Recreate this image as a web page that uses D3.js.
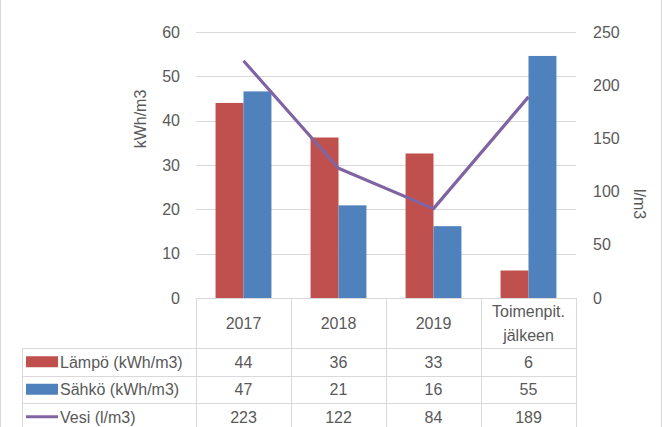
<!DOCTYPE html>
<html>
<head>
<meta charset="utf-8">
<script src="https://cdn.jsdelivr.net/npm/d3@7"></script>
<style>
  body { margin: 0; background: #fff; }
  svg { display: block; font-family: "Liberation Sans", Arial, sans-serif; }
</style>
</head>
<body>
<div id="container"></div>
<script>
var categories = ["2017", "2018", "2019", "Toimenpit.\njälkeen"];
var lampo = [44.0, 36.2, 32.6, 6.2];   // kWh/m3
var sahko = [46.6, 20.9, 16.2, 54.6];  // kWh/m3
var vesi = [223, 122, 84, 189];        // l/m3
var leftTicks = [0, 10, 20, 30, 40, 50, 60];
var rightTicks = [0, 50, 100, 150, 200, 250];

var seriesNames = ["Lämpö (kWh/m3)", "Sähkö (kWh/m3)", "Vesi (l/m3)"];
var colors = ["#c0504d", "#4f81bd", "#8064a2"];

function init() {
    var W = 663, H = 427;
    var left = 196, right = 576, top = 32, base = 298;
    var rowH = 27.5, headH = 50, legendX = 22;
    var textCol = "#595959", gridCol = "#d9d9d9";

    var svg = d3.select("#container").append("svg")
        .attr("width", W).attr("height", H);

    // chart frame
    svg.append("rect")
        .attr("x", 0.5).attr("y", -10)
        .attr("width", 661).attr("height", 500)
        .attr("fill", "none").attr("stroke", gridCol);

    var x = d3.scaleBand().domain(categories).range([left, right]);
    var y = d3.scaleLinear().domain([0, 60]).range([base, top]);
    var y2 = d3.scaleLinear().domain([0, 250]).range([base, top]);
    var xs = d3.scaleBand().domain([0, 1]).range([0, x.bandwidth()]).paddingOuter(0.7);

    // gridlines
    svg.append("g").selectAll("line")
        .data(leftTicks.slice(1))
        .enter().append("line")
        .attr("x1", left).attr("x2", right)
        .attr("y1", d => Math.round(y(d)) + 0.5)
        .attr("y2", d => Math.round(y(d)) + 0.5)
        .attr("stroke", gridCol);

    // left axis
    var la = svg.append("g")
        .attr("transform", "translate(" + (left - 16) + ",0)")
        .call(d3.axisLeft(y).tickValues(leftTicks).tickSize(0).tickPadding(0));
    la.select(".domain").remove();
    la.selectAll("text").attr("fill", textCol).style("font-size", "16px")
        .style("font-family", "Liberation Sans, Arial, sans-serif");

    // right axis
    var ra = svg.append("g")
        .attr("transform", "translate(" + (right + 17) + ",0)")
        .call(d3.axisRight(y2).tickValues(rightTicks).tickSize(0).tickPadding(0));
    ra.select(".domain").remove();
    ra.selectAll("text").attr("fill", textCol).style("font-size", "16px")
        .style("font-family", "Liberation Sans, Arial, sans-serif");

    // bars
    [lampo, sahko].forEach(function (vals, s) {
        svg.append("g").selectAll("rect")
            .data(vals)
            .enter().append("rect")
            .attr("x", (d, i) => x(categories[i]) + xs(s))
            .attr("y", d => y(d))
            .attr("width", xs.bandwidth())
            .attr("height", d => base - y(d))
            .attr("fill", colors[s]);
    });

    // line
    var lg = d3.line()
        .x((d, i) => x(categories[i]) + x.bandwidth() / 2)
        .y(d => y2(d));
    svg.append("path")
        .datum(vesi)
        .attr("d", lg)
        .attr("fill", "none")
        .attr("stroke", colors[2])
        .attr("stroke-width", 3.2)
        .attr("stroke-linejoin", "round");

    // axis titles
    svg.append("text")
        .attr("transform", "translate(146,119) rotate(-90)")
        .attr("text-anchor", "middle")
        .attr("fill", textCol).style("font-size", "16px")
        .text("kWh/m3");
    svg.append("text")
        .attr("transform", "translate(634,204) rotate(90)")
        .attr("text-anchor", "middle")
        .attr("fill", textCol).style("font-size", "16px")
        .text("l/m3");

    // data table
    var tb = svg.append("g").attr("stroke", gridCol).attr("fill", "none");
    var rowsTop = base + headH;
    tb.append("line").attr("x1", left).attr("x2", right)
        .attr("y1", base + 0.5).attr("y2", base + 0.5);
    for (var r = 0; r <= 3; r++) {
        var yy = Math.round(rowsTop + r * rowH) + 0.5;
        tb.append("line").attr("x1", legendX).attr("x2", right)
            .attr("y1", yy).attr("y2", yy);
    }
    tb.append("line").attr("x1", legendX + 0.5).attr("x2", legendX + 0.5)
        .attr("y1", rowsTop).attr("y2", H + 5);
    categories.concat([null]).forEach(function (c, i) {
        var xx = (c === null ? right : x(c));
        xx = Math.round(xx) + 0.5;
        tb.append("line").attr("x1", xx).attr("x2", xx)
            .attr("y1", base).attr("y2", H + 5);
    });

    // header labels
    categories.forEach(function (c) {
        var parts = c.split("\n");
        var t = svg.append("text")
            .attr("text-anchor", "middle")
            .attr("fill", textCol).style("font-size", "16px");
        parts.forEach(function (p, k) {
            var cy = base + headH / 2 + (k - (parts.length - 1) / 2) * 24;
            t.append("tspan")
                .attr("x", x(c) + x.bandwidth() / 2)
                .attr("y", cy + 6)
                .text(p);
        });
    });

    // rows
    [lampo, sahko, vesi].forEach(function (vals, s) {
        var cy = rowsTop + s * rowH + rowH / 2;
        if (s < 2) {
            svg.append("rect")
                .attr("x", 26).attr("y", cy - 5.5)
                .attr("width", 32).attr("height", 11)
                .attr("fill", colors[s]);
        } else {
            svg.append("line")
                .attr("x1", 26).attr("x2", 58)
                .attr("y1", cy).attr("y2", cy)
                .attr("stroke", colors[s]).attr("stroke-width", 3);
        }
        svg.append("text")
            .attr("x", 60).attr("y", cy + 6)
            .attr("fill", textCol).style("font-size", "16px")
            .text(seriesNames[s]);
        svg.append("g").selectAll("text")
            .data(vals)
            .enter().append("text")
            .attr("x", (d, i) => x(categories[i]) + x.bandwidth() / 2)
            .attr("y", cy + 6)
            .attr("text-anchor", "middle")
            .attr("fill", textCol).style("font-size", "16px")
            .text(d => Math.round(d));
    });
}
init();
</script>
</body>
</html>
